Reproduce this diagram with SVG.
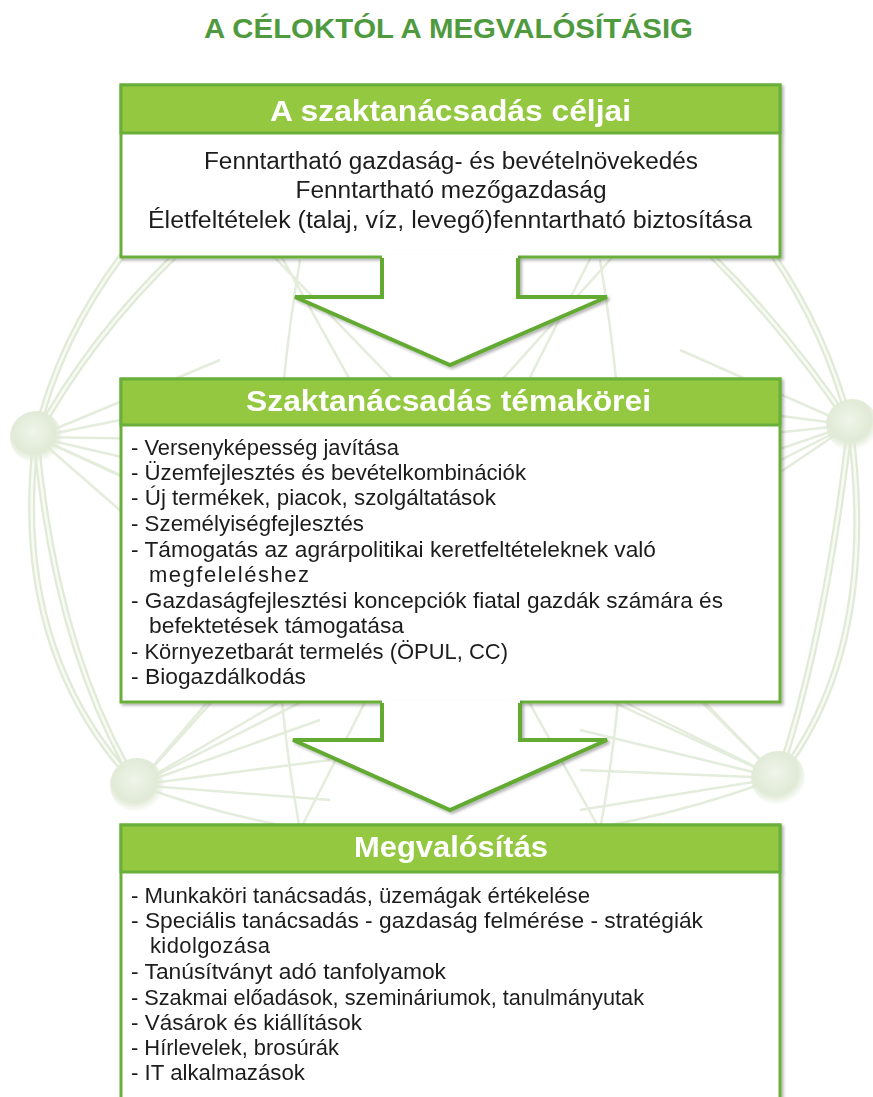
<svg xmlns="http://www.w3.org/2000/svg" width="873" height="1097" viewBox="0 0 873 1097">
<style>
.title{font-family:"Liberation Sans",Arial,sans-serif;font-weight:bold;font-size:28px;fill:#4f9a3e}
.hdr{font-family:"Liberation Sans",Arial,sans-serif;font-weight:bold;font-size:30px;fill:#ffffff}
.txt{font-family:"Liberation Sans",Arial,sans-serif;font-size:22px;fill:#1c1c1c}
.txt1{font-family:"Liberation Sans",Arial,sans-serif;font-size:23px;fill:#1c1c1c}
.body{fill:#ffffff;stroke:#6aaf3a;stroke-width:3}
.head{fill:#93c83f;stroke:#6aaf3a;stroke-width:3}
.tube{fill:none;stroke:#e1ead7;stroke-width:7;stroke-linecap:round}
.tubein{fill:none;stroke:#f8fbf5;stroke-width:2.5;stroke-linecap:round}
.ln{fill:none;stroke:#e4ecdc;stroke-width:2.5}
.arrowfill{fill:#ffffff;stroke:none}
.arrowline{fill:none;stroke:#62aa33;stroke-width:4;stroke-linejoin:miter}
</style>
<defs>
<filter id="sh" x="-5%" y="-5%" width="110%" height="110%">
<feDropShadow dx="2" dy="2" stdDeviation="1.5" flood-color="#000" flood-opacity="0.3"/>
</filter>
<radialGradient id="nodeGrad" cx="0.45" cy="0.4" r="0.6">
<stop offset="0" stop-color="#eff5ea"/>
<stop offset="0.7" stop-color="#e0ead6"/>
<stop offset="1" stop-color="#e0ead6" stop-opacity="0"/>
</radialGradient>
</defs>
<rect width="873" height="1097" fill="#ffffff"/>

<g id="background">
<path class="ln" d="M36,437 L778,778 M137,785 L850,425 M190,170 L778,778 M700,160 L137,785 M250,200 L600,830 M620,200 L300,830"/>
<path class="ln" d="M36,437 L220,360 M36,437 L220,400 M36,437 L220,440 M36,437 L220,480 M36,437 L220,520 M36,437 L200,580"/>
<path class="ln" d="M137,785 L300,690 M137,785 L320,720 M137,785 L330,760 M137,785 L330,800 M137,785 L260,640"/>
<path class="ln" d="M850,425 L680,350 M850,425 L660,400 M850,425 L660,445 M850,425 L660,490 M850,425 L680,540"/>
<path class="ln" d="M778,778 L600,690 M778,778 L580,730 M778,778 L580,770 M778,778 L580,810 M778,778 L640,640"/>
<path class="tube" d="M36,437 Q10,650 137,785 M36,437 Q55,650 137,785 M36,437 Q70,290 200,170 M36,437 Q110,300 250,190"/>
<path class="tubein" d="M36,437 Q10,650 137,785 M36,437 Q55,650 137,785 M36,437 Q70,290 200,170 M36,437 Q110,300 250,190"/>
<path class="tube" d="M850,425 Q880,650 778,778 M850,425 Q825,640 778,778 M850,425 Q810,270 690,160 M850,425 Q760,290 640,190"/>
<path class="tubein" d="M850,425 Q880,650 778,778 M850,425 Q825,640 778,778 M850,425 Q810,270 690,160 M850,425 Q760,290 640,190"/>
<path class="ln" d="M137,785 Q450,900 778,778 M300,260 Q250,560 300,830 M600,260 Q650,560 600,830"/>
<circle cx="36" cy="437" r="26" fill="url(#nodeGrad)"/>
<circle cx="137" cy="785" r="27" fill="url(#nodeGrad)"/>
<circle cx="852" cy="425" r="26" fill="url(#nodeGrad)"/>
<circle cx="778" cy="778" r="27" fill="url(#nodeGrad)"/>
</g>

<g id="title">
<text class="title" x="448.5" y="38" text-anchor="middle" textLength="489" lengthAdjust="spacingAndGlyphs">A CÉLOKTÓL A MEGVALÓSÍTÁSIG</text>
</g>

<g id="node-celjai" filter="url(#sh)">
<rect class="body" x="121" y="85" width="659" height="172"/>
<rect class="head" x="121" y="85" width="659" height="48"/>
<text class="hdr" x="450.5" y="121" text-anchor="middle" textLength="361" lengthAdjust="spacingAndGlyphs">A szaktanácsadás céljai</text>
<text class="txt1" x="451" y="169" text-anchor="middle" textLength="494" lengthAdjust="spacingAndGlyphs">Fenntartható gazdaság- és bevételnövekedés</text>
<text class="txt1" x="451" y="198" text-anchor="middle" textLength="311" lengthAdjust="spacingAndGlyphs">Fenntartható mezőgazdaság</text>
<text class="txt1" x="450" y="228" text-anchor="middle" textLength="604" lengthAdjust="spacingAndGlyphs">Életfeltételek (talaj, víz, levegő)fenntartható biztosítása</text>
</g>

<g id="node-temakorei" filter="url(#sh)">
<rect class="body" x="121" y="379" width="659" height="323"/>
<rect class="head" x="121" y="379" width="659" height="46"/>
<text class="hdr" x="448.5" y="411" text-anchor="middle" textLength="405" lengthAdjust="spacingAndGlyphs">Szaktanácsadás témakörei</text>
<text class="txt" x="131" y="455" textLength="268" lengthAdjust="spacingAndGlyphs">- Versenyképesség javítása</text>
<text class="txt" x="131" y="480" textLength="395" lengthAdjust="spacingAndGlyphs">- Üzemfejlesztés és bevételkombinációk</text>
<text class="txt" x="131" y="505" textLength="365" lengthAdjust="spacingAndGlyphs">- Új termékek, piacok, szolgáltatások</text>
<text class="txt" x="131" y="531" textLength="233" lengthAdjust="spacingAndGlyphs">- Személyiségfejlesztés</text>
<text class="txt" x="131" y="557" textLength="525" lengthAdjust="spacingAndGlyphs">- Támogatás az agrárpolitikai keretfeltételeknek való</text>
<text class="txt" x="149" y="582" textLength="160" lengthAdjust="spacing">megfeleléshez</text>
<text class="txt" x="131" y="608" textLength="592" lengthAdjust="spacingAndGlyphs">- Gazdaságfejlesztési koncepciók fiatal gazdák számára és</text>
<text class="txt" x="149" y="633" textLength="255" lengthAdjust="spacingAndGlyphs">befektetések támogatása</text>
<text class="txt" x="131" y="659" textLength="377" lengthAdjust="spacingAndGlyphs">- Környezetbarát termelés (ÖPUL, CC)</text>
<text class="txt" x="131" y="684" textLength="175" lengthAdjust="spacingAndGlyphs">- Biogazdálkodás</text>
</g>

<g id="node-megvalositas" filter="url(#sh)">
<rect class="body" x="121" y="825" width="659" height="290"/>
<rect class="head" x="121" y="825" width="659" height="47"/>
<text class="hdr" x="451" y="857" text-anchor="middle" textLength="194" lengthAdjust="spacingAndGlyphs">Megvalósítás</text>
<text class="txt" x="131" y="903" textLength="459" lengthAdjust="spacingAndGlyphs">- Munkaköri tanácsadás, üzemágak értékelése</text>
<text class="txt" x="131" y="928" textLength="572" lengthAdjust="spacingAndGlyphs">- Speciális tanácsadás - gazdaság felmérése - stratégiák</text>
<text class="txt" x="150" y="953" textLength="120" lengthAdjust="spacing">kidolgozása</text>
<text class="txt" x="131" y="979" textLength="315" lengthAdjust="spacingAndGlyphs">- Tanúsítványt adó tanfolyamok</text>
<text class="txt" x="131" y="1005" textLength="513" lengthAdjust="spacingAndGlyphs">- Szakmai előadások, szemináriumok, tanulmányutak</text>
<text class="txt" x="131" y="1030" textLength="231" lengthAdjust="spacingAndGlyphs">- Vásárok és kiállítások</text>
<text class="txt" x="131" y="1055" textLength="208" lengthAdjust="spacingAndGlyphs">- Hírlevelek, brosúrák</text>
<text class="txt" x="131" y="1080" textLength="174" lengthAdjust="spacingAndGlyphs">- IT alkalmazások</text>
</g>

<g id="connectors">
<g id="arrow-1" filter="url(#sh)">
<polygon class="arrowfill" points="382,255 382,297 295,297 450,365 607,297 518,297 518,255"/>
<path class="arrowline" d="M382,258 V297 H295 L450,365 L607,297 H518 V258"/>
</g>
<g id="arrow-2" filter="url(#sh)">
<polygon class="arrowfill" points="382,700 382,740 293,740 450,810 607,740 520,740 520,700"/>
<path class="arrowline" d="M382,703 V740 H293 L450,810 L607,740 H520 V703"/>
</g>
</g>
</svg>
